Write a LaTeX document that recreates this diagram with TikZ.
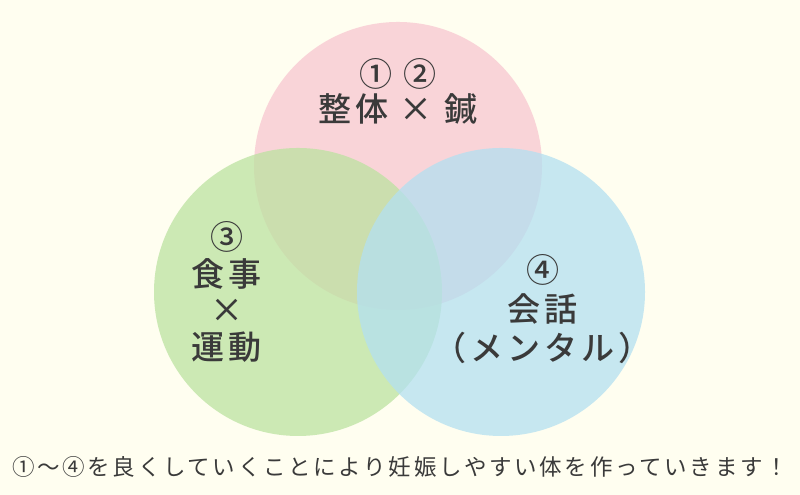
\documentclass[tikz,border=0pt]{standalone}
\usepackage{fontspec}
\setmainfont{Noto Sans CJK JP}[LetterSpace=12, BoldFont={Noto Sans CJK JP Medium}]
\definecolor{cream}{RGB}{255,254,240}
\definecolor{pinkfill}{RGB}{248,198,208}
\definecolor{greenfill}{RGB}{188,226,161}
\definecolor{bluefill}{RGB}{179,224,241}
\definecolor{ink}{RGB}{58,58,58}
\tikzset{
  petal/.style={fill opacity=0.75, draw=none},
  bigtext/.style={text=ink, align=center, font=\fontsize{9.4}{10.5}\selectfont\bfseries},
  smalltext/.style={text=ink, font=\fontsize{6.4}{7}\selectfont}
}
\begin{document}
\begin{tikzpicture}
        \fill[cream] (0,0) rectangle (8,4.95);
        \useasboundingbox (0,0) rectangle (8,4.95);

        \coordinate (Pink) at (3.98,3.29);
        \coordinate (Green) at (2.98,2.03);
        \coordinate (Blue) at (5.01,2.03);

        \fill[petal, pinkfill] (Pink) circle (1.44cm);
        \fill[petal, greenfill] (Green) circle (1.44cm);
        \fill[petal, bluefill] (Blue) circle (1.44cm);

        \node[bigtext, font=\fontsize{9.4}{9.8}\selectfont\bfseries] (L12) at (3.98,4.03) {① ②\\整体 × 鍼};
        \node[bigtext] (L3) at (2.27,2.03) {③\\食事\\×\\運動};
        \node[bigtext, font=\fontsize{9.4}{11}\selectfont\bfseries] (L4) at (5.43,1.86) {④\\会話\\（メンタル）};

        \node[smalltext] (Note) at (4.0,0.28) {①～④を良くしていくことにより妊娠しやすい体を作っていきます！};
    \end{tikzpicture}
\end{document}
